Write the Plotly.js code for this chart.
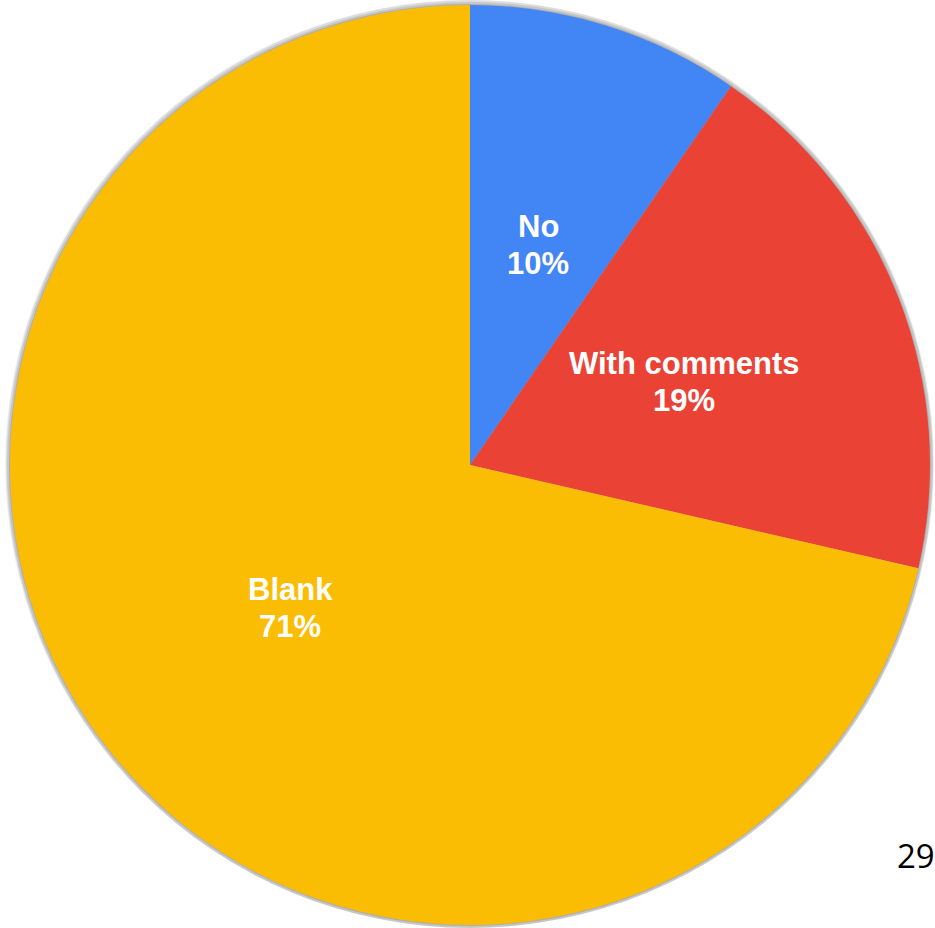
<!DOCTYPE html>
<html>
<head>
<meta charset="utf-8">
<script src="https://cdn.plot.ly/plotly-3.0.1.min.js"></script>
<style>html,body{margin:0;padding:0;background:#fff;}#chart{width:935px;height:928px;}</style>
</head>
<body>
<div id="chart"></div>
<script>
const categories = ["No", "With comments", "Blank"];
const shares = [9.6, 19.0, 71.4];
const sliceColors = ["#4285F4", "#EA4335", "#FBBC04"];
const pageNumber = "29";

const W = 935, H = 928;
const cx = 470, cy = 465, R = 460;
function dom(r) {
  return {
    x: [(cx - r) / W, (cx + r) / W],
    y: [(H - cy - r) / H, (H - cy + r) / H]
  };
}

const shadowLayers = [[467, 0.06], [465, 0.08], [463, 0.10], [461, 0.12]].map(([r, a]) => ({
  type: "pie",
  values: [1],
  marker: {colors: ["rgba(0,0,0," + a + ")"], line: {width: 0}},
  textinfo: "none",
  hoverinfo: "skip",
  sort: false,
  showlegend: false,
  domain: dom(r)
}));

const mainPie = {
  type: "pie",
  labels: categories,
  values: shares,
  marker: {colors: sliceColors, line: {width: 0}},
  sort: false,
  direction: "clockwise",
  rotation: 0,
  textinfo: "none",
  hoverinfo: "none",
  showlegend: false,
  domain: dom(R)
};

// Slice labels placed at half radius along each slice's mid-angle (derived from the data)
const total = shares.reduce((a, b) => a + b, 0);
const labelFont = {family: "Liberation Sans, Arial, sans-serif", size: 31, color: "#ffffff", weight: "bold"};
const annotations = [];
let cum = 0;
shares.forEach((v, i) => {
  const mid = (cum + v / 2) / total;
  cum += v;
  const th = mid * 2 * Math.PI;
  const px = cx + 0.5 * R * Math.sin(th);
  const py = cy - 0.5 * R * Math.cos(th);
  const pct = Math.round(v / total * 100) + "%";
  [[categories[i], py - 18.5], [pct, py + 18.5]].forEach(([t, yy]) => {
    annotations.push({
      text: "<b>" + t + "</b>",
      xref: "paper", yref: "paper",
      x: px / W, y: (H - yy) / H,
      xanchor: "center", yanchor: "middle",
      showarrow: false,
      font: labelFont
    });
  });
});

annotations.push({
  text: pageNumber,
  xref: "paper", yref: "paper",
  x: 937 / W, y: (H - 855) / H,
  xanchor: "right", yanchor: "middle",
  showarrow: false,
  font: {family: "Open Sans, sans-serif", size: 33, color: "#000000"}
});

const layout = {
  width: W, height: H,
  margin: {l: 0, r: 0, t: 0, b: 0},
  paper_bgcolor: "#ffffff",
  showlegend: false,
  annotations: annotations
};

Plotly.newPlot("chart", shadowLayers.concat([mainPie]), layout, {staticPlot: true});
</script>
</body>
</html>
